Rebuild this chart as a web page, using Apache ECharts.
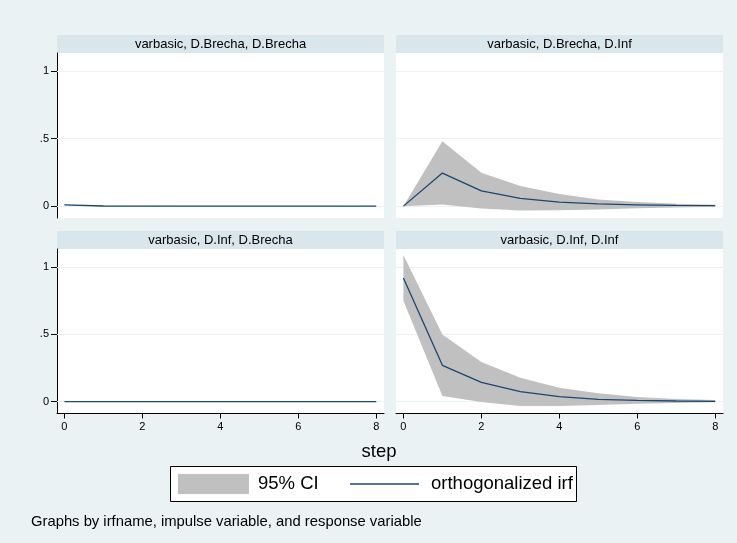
<!DOCTYPE html>
<html>
<head>
<meta charset="utf-8">
<title>varbasic irf</title>
<script src="https://cdn.jsdelivr.net/npm/echarts@6.0.0/dist/echarts.min.js"></script>
<style>
  html, body { margin: 0; padding: 0; background: #eaf2f3; }
  #chart { width: 737px; height: 543px; }
</style>
</head>
<body>
<div id="chart"></div>
<script>
// 数据
const steps = [0, 1, 2, 3, 4, 5, 6, 7, 8]
const xTicks = [0, 2, 4, 6, 8]
const yTicks = [0, 0.5, 1]
const panelTitles = [
  'varbasic, D.Brecha, D.Brecha',
  'varbasic, D.Brecha, D.Inf',
  'varbasic, D.Inf, D.Brecha',
  'varbasic, D.Inf, D.Inf'
]

// D.Brecha -> D.Brecha
const irfBB = [0.009, 0.001, 0.0005, 0.0002, 0.0001, 0, 0, 0, 0]
const loBB = [0.008, -0.001, -0.001, -0.0008, -0.0005, -0.0003, -0.0002, -0.0001, 0]
const hiBB = [0.010, 0.003, 0.002, 0.0012, 0.0007, 0.0003, 0.0002, 0.0001, 0]

// D.Brecha -> D.Inf
const irfBI = [0, 0.245, 0.113, 0.057, 0.03, 0.016, 0.01, 0.005, 0.003]
const loBI = [0, 0.012, -0.018, -0.032, -0.031, -0.025, -0.016, -0.01, -0.005]
const hiBI = [0, 0.48, 0.248, 0.15, 0.09, 0.05, 0.03, 0.017, 0.01]

// D.Inf -> D.Brecha
const irfIB = [0, 0, 0, 0, 0, 0, 0, 0, 0]
const loIB = [0, -0.0005, -0.0005, -0.0004, -0.0003, -0.0002, -0.0001, -0.0001, 0]
const hiIB = [0, 0.0005, 0.0005, 0.0004, 0.0003, 0.0002, 0.0001, 0.0001, 0]

// D.Inf -> D.Inf
const irfII = [0.92, 0.27, 0.144, 0.074, 0.037, 0.017, 0.01, 0.005, 0.002]
const loII = [0.75, 0.042, -0.002, -0.032, -0.032, -0.025, -0.015, -0.01, -0.005]
const hiII = [1.09, 0.5, 0.295, 0.178, 0.104, 0.062, 0.035, 0.02, 0.012]

const panelData = [
  [irfBB, loBB, hiBB],
  [irfBI, loBI, hiBI],
  [irfIB, loIB, hiIB],
  [irfII, loII, hiII]
]

// 版式
const FONT = "'Liberation Sans', Arial, sans-serif"
const BG = '#eaf2f3'
const STRIP = '#d9e6eb'
const CI_COLOR = '#c0c0c0'
const IRF_COLOR = '#1a476f'
const panels = [
  { left: 57, top: 53, width: 327, height: 165, yAxis: true, xAxis: false },
  { left: 396, top: 53, width: 327, height: 165, yAxis: false, xAxis: false },
  { left: 57, top: 249, width: 327, height: 164.5, yAxis: true, xAxis: true },
  { left: 396, top: 249, width: 327, height: 164.5, yAxis: false, xAxis: true }
]
const STRIP_H = 18

const grid = panels.map(p => ({
  left: p.left,
  top: p.top,
  width: p.width,
  height: p.height,
  show: true,
  backgroundColor: '#fff',
  borderWidth: 0,
  containLabel: false,
  outerBoundsMode: 'none'
}))

const xAxis = panels.map((p, i) => ({
  type: 'value',
  gridIndex: i,
  min: -0.19,
  max: 8.2,
  show: p.xAxis,
  splitLine: { show: false },
  axisLine: { show: p.xAxis, onZero: false, lineStyle: { color: '#000', width: 1 } },
  axisTick: { show: p.xAxis, length: 5, customValues: xTicks, lineStyle: { color: '#000' } },
  axisLabel: {
    show: p.xAxis,
    customValues: xTicks,
    margin: 8,
    fontSize: 11,
    color: '#000',
    fontFamily: FONT
  }
}))

const yAxis = panels.map((p, i) => ({
  type: 'value',
  gridIndex: i,
  min: -0.088,
  max: 1.135,
  splitLine: { show: false },
  axisLine: { show: p.yAxis, onZero: false, lineStyle: { color: '#000', width: 1 } },
  axisTick: { show: p.yAxis, length: 6, customValues: yTicks, lineStyle: { color: '#000' } },
  axisLabel: {
    show: p.yAxis,
    customValues: yTicks,
    margin: 8,
    fontSize: 11,
    color: '#000',
    fontFamily: FONT,
    formatter: v => (v === 0 ? '0' : String(v).replace(/^0\./, '.'))
  }
}))

// 每个面板：置信带（custom 多边形）+ irf 线；网格线挂在置信带上
function panelSeries (i, irf, lo, hi) {
  return [
    {
      name: '95% CI',
      type: 'custom',
      xAxisIndex: i,
      yAxisIndex: i,
      data: steps.map((s, k) => [s, lo[k], hi[k]]),
      encode: { x: 0, y: [1, 2] },
      renderItem: function (params, api) {
        // 只在第一个点画整块多边形
        if (params.dataIndex !== 0) return null
        const upper = steps.map((s, k) => api.coord([s, hi[k]]))
        const lower = steps.map((s, k) => api.coord([s, lo[k]])).reverse()
        return {
          type: 'polygon',
          shape: { points: upper.concat(lower) },
          style: { fill: CI_COLOR }
        }
      },
      silent: true,
      z: 2,
      markLine: {
        z: 1,
        silent: true,
        symbol: ['none', 'none'],
        label: { show: false },
        lineStyle: { color: BG, width: 1, type: 'solid' },
        data: yTicks.map(v => ({ yAxis: v }))
      }
    },
    {
      name: 'orthogonalized irf',
      type: 'line',
      xAxisIndex: i,
      yAxisIndex: i,
      data: steps.map((s, k) => [s, irf[k]]),
      symbol: 'none',
      lineStyle: { color: IRF_COLOR, width: 1.3 },
      silent: true,
      z: 3
    }
  ]
}

let series = []
panelData.forEach((d, i) => {
  series = series.concat(panelSeries(i, d[0], d[1], d[2]))
})

// 标题条、坐标名、图例、注释
const graphic = []
panels.forEach((p, i) => {
  graphic.push({
    type: 'rect',
    shape: { x: p.left, y: p.top - STRIP_H, width: p.width, height: STRIP_H },
    style: { fill: STRIP },
    silent: true
  })
  graphic.push({
    type: 'text',
    x: p.left + p.width / 2,
    y: p.top - STRIP_H / 2,
    style: {
      text: panelTitles[i],
      fill: '#000',
      font: '13px ' + FONT,
      align: 'center',
      verticalAlign: 'middle'
    },
    silent: true
  })
})

graphic.push(
  {
    type: 'text',
    x: 379,
    y: 452,
    style: { text: 'step', fill: '#000', font: '18.5px ' + FONT, align: 'center', verticalAlign: 'middle' }
  },
  {
    type: 'rect',
    shape: { x: 170.5, y: 466.5, width: 406, height: 35 },
    style: { fill: '#fff', stroke: '#000', lineWidth: 1 }
  },
  {
    type: 'rect',
    shape: { x: 178, y: 474, width: 71, height: 20 },
    style: { fill: CI_COLOR }
  },
  {
    type: 'text',
    x: 258,
    y: 484,
    style: { text: '95% CI', fill: '#000', font: '18.5px ' + FONT, verticalAlign: 'middle' }
  },
  {
    type: 'line',
    shape: { x1: 350, y1: 484, x2: 419, y2: 484 },
    style: { stroke: IRF_COLOR, lineWidth: 1.3 }
  },
  {
    type: 'text',
    x: 431,
    y: 484,
    style: { text: 'orthogonalized irf', fill: '#000', font: '18.5px ' + FONT, verticalAlign: 'middle' }
  },
  {
    type: 'text',
    x: 31,
    y: 522,
    style: {
      text: 'Graphs by irfname, impulse variable, and response variable',
      fill: '#000',
      font: '14.8px ' + FONT,
      verticalAlign: 'middle'
    }
  }
)

const option = {
  backgroundColor: BG,
  animation: false,
  textStyle: { fontFamily: FONT },
  grid: grid,
  xAxis: xAxis,
  yAxis: yAxis,
  series: series,
  graphic: graphic
}

const myChart = echarts.init(document.getElementById('chart'), null, { renderer: 'canvas' })
myChart.setOption(option)
window.addEventListener('resize', () => myChart.resize())
</script>
</body>
</html>
